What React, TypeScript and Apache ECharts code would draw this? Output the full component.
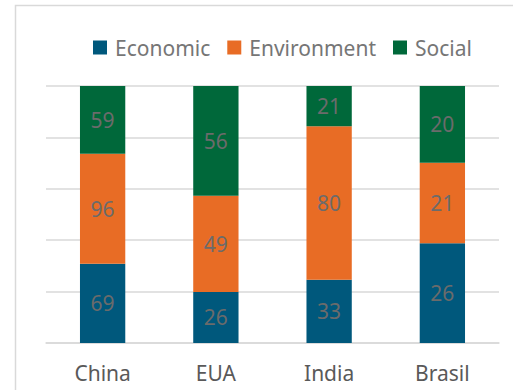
import React, { useEffect, useRef } from "react";
import * as echarts from "echarts";

const categories = ["China", "EUA", "India", "Brasil"];
const seriesNames = ["Economic", "Environment", "Social"];
const economic = [69, 26, 33, 26];
const environment = [96, 49, 80, 21];
const social = [59, 56, 21, 20];
const colors = ["#00587C", "#E86C25", "#00683A"];

export default function App() {
  const ref = useRef<HTMLDivElement>(null);
  useEffect(() => {
    if (!ref.current) return;
    const chart = echarts.init(ref.current, null, { renderer: "svg" });
    const raw = [economic, environment, social];
    const totals = categories.map((_, i) => economic[i] + environment[i] + social[i]);
    const font = "Noto Sans";
    chart.setOption({
      animation: false,
      textStyle: { fontFamily: font },
      graphic: [
        {
          type: "rect",
          shape: { x: 15.5, y: 5.5, width: 600, height: 500 },
          style: { fill: "none", stroke: "#d9d9d9", lineWidth: 1.5 },
          silent: true,
        },
      ],
      legend: {
        left: 88,
        top: 32,
        icon: "rect",
        itemWidth: 14,
        itemHeight: 14,
        itemGap: 17,
        textStyle: { fontSize: 21, color: "#767676", fontFamily: font, padding: [0, 0, 0, 3] },
        data: seriesNames,
      },
      grid: { left: 46, right: 14, top: 86, bottom: 47 },
      xAxis: {
        type: "category",
        data: categories,
        axisLine: { show: true, lineStyle: { color: "#d9d9d9", width: 1.5 } },
        axisTick: { show: false },
        axisLabel: { fontSize: 21, color: "#595959", margin: 19, fontFamily: font },
      },
      yAxis: {
        type: "value",
        min: 0,
        max: 100,
        interval: 20,
        axisLabel: { show: false },
        axisLine: { show: false },
        axisTick: { show: false },
        splitLine: { lineStyle: { color: "#d9d9d9", width: 1.5 } },
      },
      series: seriesNames.map((name, s) => ({
        name,
        type: "bar",
        stack: "total",
        barWidth: "40%",
        itemStyle: { color: colors[s] },
        label: {
          show: true,
          position: "inside",
          fontSize: 21,
          color: "#6b6b6b",
          fontFamily: font,
          formatter: (p: any) => String(raw[s][p.dataIndex]),
        },
        data: raw[s].map((v, i) => (v / totals[i]) * 100),
      })),
    });
    return () => chart.dispose();
  }, []);
  return (
    <div
      ref={ref}
      style={{ position: "absolute", left: 0, top: 0, width: 513, height: 390, background: "#fff" }}
    />
  );
}
